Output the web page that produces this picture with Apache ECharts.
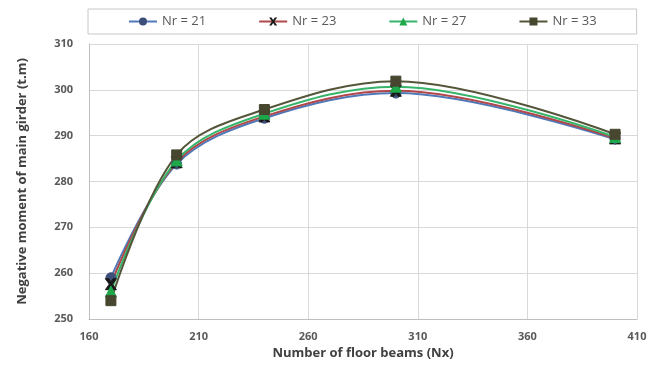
<!DOCTYPE html>
<html>
<head>
<meta charset="utf-8">
<script src="https://cdn.jsdelivr.net/npm/echarts@6/dist/echarts.min.js"></script>
<style>
  html, body { margin: 0; padding: 0; background: #ffffff; }
  #chart { width: 666px; height: 370px; }
</style>
</head>
<body>
<div id="chart"></div>
<script>
// Number of floor beams (Nx)
const floorBeams = [170, 200, 240, 300, 400];

// Negative moment of main girder (t.m) for each number of ribs
const nr21 = [259.0, 283.8, 293.8, 299.3, 289.2];
const nr23 = [257.6, 284.2, 294.2, 299.8, 289.4];
const nr27 = [256.0, 284.6, 294.8, 300.7, 289.7];
const nr33 = [254.0, 285.8, 295.7, 301.9, 290.3];

const seriesNames = ['Nr = 21', 'Nr = 23', 'Nr = 27', 'Nr = 33'];

const chart = echarts.init(document.getElementById('chart'), null, { renderer: 'canvas' });

const font = '"Open Sans", "DejaVu Sans", sans-serif';

function pairs(ys) {
  return floorBeams.map((x, i) => [x, ys[i]]);
}

function line(name, ys, lineColor, markColor, symbol, size) {
  return {
    name: name,
    type: 'line',
    data: pairs(ys),
    smooth: 0.35,
    symbol: symbol,
    symbolSize: size,
    lineStyle: { color: lineColor, width: 2 },
    itemStyle: { color: markColor, borderColor: markColor },
    emphasis: { disabled: true }
  };
}

const crossPath = 'path://M0,0 L3,0 L5,3 L7,0 L10,0 L6.5,5 L10,10 L7,10 L5,7 L3,10 L0,10 L3.5,5 Z';

chart.setOption({
  animation: false,
  backgroundColor: '#ffffff',
  grid: { left: 89, right: 29, top: 44, bottom: 51 },
  legend: {
    top: 9,
    left: 88,
    width: 492,
    height: 20,
    padding: [6, 40, 6, 40],
    itemGap: 52,
    itemWidth: 28,
    itemHeight: 10,
    borderColor: '#c8c8c8',
    borderWidth: 1,
    textStyle: { fontFamily: font, fontSize: 13, color: '#595959' },
    data: seriesNames
  },
  xAxis: {
    type: 'value',
    min: 160,
    max: 410,
    interval: 50,
    name: 'Number of floor beams (Nx)',
    nameLocation: 'middle',
    nameGap: 28,
    nameTextStyle: { fontFamily: font, fontSize: 13, fontWeight: 'bold', color: '#404040' },
    axisLine: { lineStyle: { color: '#bfbfbf' } },
    axisTick: { show: false },
    axisLabel: { fontFamily: font, fontSize: 11, fontWeight: 'bold', color: '#595959', margin: 12 },
    splitLine: { show: true, lineStyle: { color: '#d9d9d9' } }
  },
  yAxis: {
    type: 'value',
    min: 250,
    max: 310,
    interval: 10,
    name: 'Negative moment of main girder (t.m)',
    nameLocation: 'middle',
    nameGap: 60,
    nameTextStyle: { fontFamily: font, fontSize: 13, fontWeight: 'bold', color: '#404040' },
    axisLine: { show: true, lineStyle: { color: '#bfbfbf' } },
    axisTick: { show: false },
    axisLabel: { fontFamily: font, fontSize: 11, fontWeight: 'bold', color: '#595959', margin: 16 },
    splitLine: { show: true, lineStyle: { color: '#d9d9d9' } }
  },
  series: [
    line(seriesNames[0], nr21, '#4f79b8', '#3b4f7a', 'circle', 10),
    line(seriesNames[1], nr23, '#b0474a', '#1a1a1a', crossPath, 11),
    line(seriesNames[2], nr27, '#36b56a', '#1ea84a', 'triangle', 11),
    line(seriesNames[3], nr33, '#55553a', '#474730', 'rect', 10)
  ]
});
</script>
</body>
</html>
